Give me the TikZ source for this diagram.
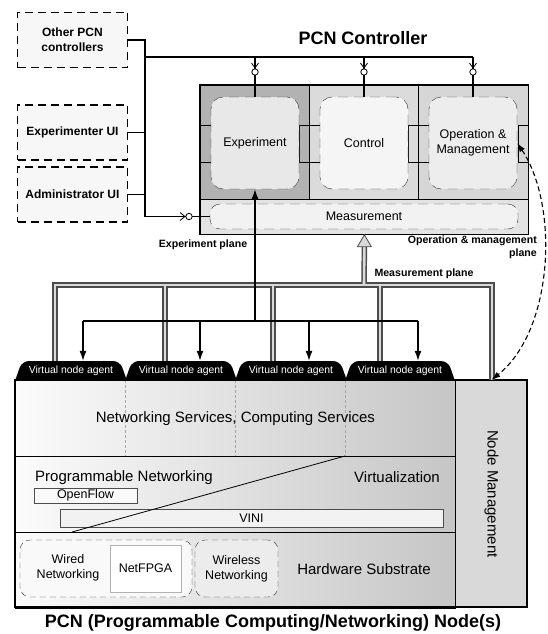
\documentclass[tikz,border=0pt]{standalone}
\usepackage{fontspec}
\setmainfont{Liberation Sans}
\usepackage{xcolor}
\usetikzlibrary{arrows.meta, calc}

\begin{document}
\begin{tikzpicture}[x=1pt, y=-1pt, >={Latex[length=10pt,width=7pt]},
    wire/.style={line width=1.3pt},
    uibox/.style={draw, line width=1.3pt, dash pattern=on 8pt off 5pt, fill=gray!6, minimum width=110, minimum height=55, inner sep=0, align=center, font=\bfseries\fontsize{12}{15}\selectfont},
    sect/.style={draw, thick, anchor=north west, inner sep=0, minimum width=109, minimum height=114},
    inbox/.style={draw=black!80, dash pattern=on 10pt off 6pt, rounded corners=12, minimum width=88, minimum height=92, inner sep=0, align=center, font=\fontsize{12.5}{15}\selectfont},
    tabtext/.style={text=white, font=\fontsize{10.4}{12}\selectfont, minimum height=19, inner sep=0},
    stackrow/.style={draw, thick, anchor=north west, inner sep=0, minimum width=440, minimum height=76, left color=gray!3, right color=gray!45},
    bigtxt/.style={font=\fontsize{15}{18}\selectfont, inner sep=0},
    smalltxt/.style={font=\fontsize{12.5}{15}\selectfont, inner sep=0, align=center},
    planelab/.style={font=\bfseries\fontsize{10.6}{12.5}\selectfont, inner sep=0},
    hwbox/.style={draw=black!80, dash pattern=on 6pt off 4pt, rounded corners=10, minimum height=57, inner sep=0}]
    \useasboundingbox (0,0) rectangle (547,634);

    % Titolo del controller
    \node[font=\bfseries\fontsize{18}{20}\selectfont] (ctrltitle) at (363,38) {PCN Controller};

    % Riquadri esterni tratteggiati
    \node[uibox] (other) at (72.5,40) {Other PCN\\controllers};
    \node[uibox] (expui) at (72.5,132.5) {Experimenter UI};
    \node[uibox] (adminui) at (72.5,194.5) {Administrator UI};

    % Sezioni del controller
    \node[sect, fill=gray!60] (expsec) at (200,85) {};
    \node[sect, fill=gray!28] (ctlsec) at (309,85) {};
    \node[sect, fill=gray!32, minimum width=110] (omsec) at (418,85) {};
    \node[sect, fill=gray!22, minimum width=328, minimum height=35] (meassec) at (200,199) {};
    \draw[very thick] (expsec.north west) rectangle (meassec.south east);

    % Porte laterali
    \foreach \x in {200,309,418} \draw[thick] (\x,125) rectangle (\x+11,162);
    \foreach \x in {309,418,528} \draw[thick] (\x-10,125) rectangle (\x,162);

    % Moduli interni
    \node[inbox, fill=gray!18] (expbox) at (255,143) {Experiment};
    \node[inbox, fill=gray!8] (ctlbox) at (364,143) {Control};
    \node[inbox, fill=gray!14] (ombox) at (473,143) {Operation \&\\Management};
    \node[inbox, fill=gray!10, minimum width=308, minimum height=25, rounded corners=10] (measbox) at (364,216.5) {Measurement};

    % Nodo PCN: agenti virtuali
    \foreach \i/\a/\b in {1/15/127,2/125/237,3/235/347,4/345/455} {
        \fill[black, rounded corners=7] (\a-2.5,388) -- (\a+7,361) -- (\b-7,361) -- (\b+2.5,388) -- cycle;
        \node[tabtext] (agent\i) at ({(\a+\b)/2},370.5) {Virtual node agent};
    }

    % Strati del nodo
    \node[stackrow] (svc) at (15,380) {};
    \foreach \x in {125,235,345} \draw[densely dashed, gray!70] (\x,380) -- (\x,456);
    \node[bigtxt] (svclab) at (svc.center) {Networking Services, Computing Services};
    \node[stackrow] (virt) at (15,456) {};
    \node[stackrow] (hw) at (15,532) {};
    \node[draw, thick, fill=gray!30, anchor=north west, inner sep=0, minimum width=72, minimum height=227] (nodemgmt) at (455,380) {};
    \node[bigtxt, rotate=-90] (nmlabel) at (nodemgmt.center) {Node Management};
    \draw[very thick] (15,380) rectangle (527,607);

    % Virtualizzazione
    \node[bigtxt, anchor=west] (prognet) at (35,478) {Programmable Networking};
    \node[bigtxt, anchor=east] (virtlab) at (440,477) {Virtualization};
    \node[draw=black!70, fill=gray!5, minimum width=103, minimum height=15, smalltxt] (openflow) at (85.5,495.5) {OpenFlow};
    \node[draw=black!70, fill=gray!10, minimum width=383, minimum height=18, smalltxt] (vini) at (251.5,518) {VINI};
    \draw[thick] (72,532) -- (345,456);

    % Hardware
    \node[hwbox, fill=gray!5, minimum width=172] (wired) at (106,568.5) {};
    \node[smalltxt] (wiredlab) at (68,568) {Wired\\Networking};
    \node[draw=gray!60, fill=white, minimum width=71, minimum height=47, smalltxt] (netfpga) at (145.5,568.5) {NetFPGA};
    \node[hwbox, fill=gray!15, minimum width=83, smalltxt] (wireless) at (236.5,568.5) {Wireless\\Networking};
    \node[bigtxt] (hwlab) at (364,569) {Hardware Substrate};

    % Bus verso il controller
    \coordinate (busL) at (145,57);
    \coordinate (busR) at (473,57);
    \draw[wire] (other.east) -| (busL) -- (busR);
    \draw[wire] (busL) |- (measbox.west);
    \draw[wire] (expui.east) -- (expui.east -| busL);
    \draw[wire] (adminui.east) -- (adminui.east -| busL);
    \foreach \n in {expbox,ctlbox,ombox} {
        \draw[wire] (\n.north |- busL) -- (\n.north);
        \draw[thick] ($(\n.north |- busL)+(-3.5,6)$) -- ++(3.5,5) -- ++(3.5,-5);
        \draw[thick, fill=white] ($(\n.north |- busL)+(0,15)$) circle (3.2);
    }
    \draw[thick] (180,212.5) -- (185,216.5) -- (180,220.5);
    \draw[thick, fill=white] (189,216.5) circle (3.2);

    % Piano di misura
    \coordinate (measbus) at (364,285);
    \foreach \w/\c in {5.5/gray!60!black, 2.6/gray!30} {
        \draw[line width=\w, \c] ($(meassec.south)+(0,11)$) -- (measbus);
        \draw[line width=\w, \c] (55,0 |- agent1.north) -- (55,285) -- (492,285) -- (492,0 |- nodemgmt.north);
        \foreach \x/\a in {165/agent2,273/agent3,380/agent4}
            \draw[line width=\w, \c] (\x,285) -- (\x,0 |- \a.north);
    }
    \filldraw[fill=gray!30, draw=gray!60!black, thick] (meassec.south) -- ++(-7,12) -- ++(14,0) -- cycle;

    % Piano di esperimento
    \coordinate (expbus) at (255,321);
    \draw[->, wire] (expbus) -- (expbox.south);
    \draw[wire] (83,321) -- (418,321);
    \foreach \x/\a in {83/agent1,200/agent2,309/agent3,418/agent4}
        \draw[->, wire] (\x,321) -- (\x,0 |- \a.north);

    % Piano di gestione
    \draw[{Latex[length=9pt,width=6pt]}-{Latex[length=9pt,width=6pt]}, line width=1.1pt, dash pattern=on 5pt off 3pt] (ombox.east) .. controls (559,205) and (554,330) .. (nodemgmt.north);

    % Etichette dei piani
    \node[planelab] (explab) at (203,245) {Experiment plane};
    \node[planelab] (measlab) at (424,274) {Measurement plane};
    \node[planelab, align=right, anchor=north east] (omlab) at (537,236) {Operation \& management\\plane};

    % Titolo del nodo
    \node[font=\bfseries\fontsize{18}{20}\selectfont] (pcntitle) at (273,623) {PCN (Programmable Computing/Networking) Node(s)};
\end{tikzpicture}
\end{document}
